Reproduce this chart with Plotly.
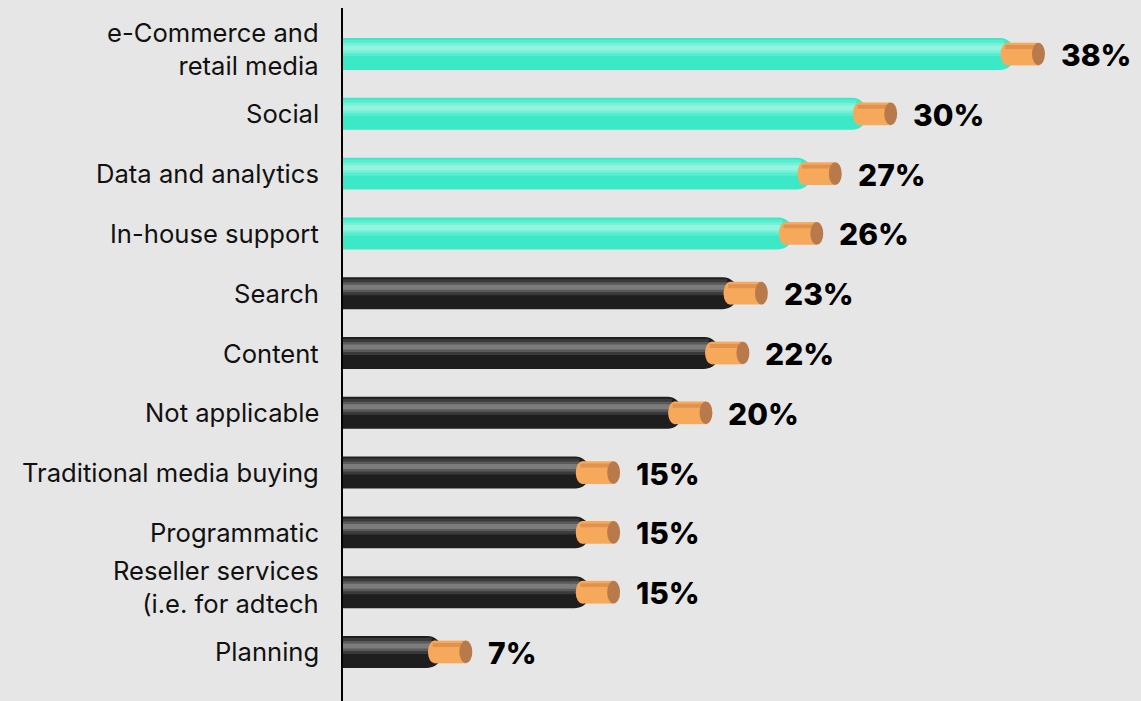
import plotly.graph_objects as go

# Services share, percent of respondents
categories = [
    "e-Commerce and<br>retail media",
    "Social",
    "Data and analytics",
    "In-house support",
    "Search",
    "Content",
    "Not applicable",
    "Traditional media buying",
    "Programmatic",
    "Reseller services<br>(i.e. for adtech",
    "Planning",
]
values = [38, 30, 27, 26, 23, 22, 20, 15, 15, 15, 7]
highlighted = [True, True, True, True, False, False, False, False, False, False, False]

BG = "#e6e6e6"
TEAL_LAYERS = ["#3ce9c6", "#58edcf", "#76f0d7", "#93f4df"]
DARK_LAYERS = ["#1e1e1e", "#3a3a3a", "#5a5a5a", "#7c7c7c"]
COPPER = "#f6a95b"
COPPER_STRIPE = "#e2924f"
COPPER_CAP = "#b97a4b"

CABLE_GAP = 1.63      # bare copper length, in % units
COPPER_LEN = 2.4      # copper visible length (incl. part under insulation)
CAP_W = 0.7           # width of copper end-face ellipse

rows = list(range(len(categories)))

# (offset from row centre, thickness) for each cable shading layer
layers = [(-0.2676, 0.535), (-0.234, 0.268), (-0.184, 0.167), (-0.142, 0.084)]

fig = go.Figure()
for i, (off, w) in enumerate(layers):
    colors = [TEAL_LAYERS[i] if h else DARK_LAYERS[i] for h in highlighted]
    if i == 0:
        xs = [v - CABLE_GAP for v in values]
        radius = "50%"
    else:
        xs = [v - COPPER_LEN + 0.2 for v in values]
        radius = 0
    fig.add_trace(go.Bar(
        x=xs, y=rows, orientation="h",
        offset=off, width=w,
        marker=dict(color=colors, line=dict(width=0), cornerradius=radius),
        hoverinfo="skip", showlegend=False,
    ))

# Copper conductor at the end of each cable
shapes = []
ch = 0.19
for r, v in zip(rows, values):
    left = v - COPPER_LEN
    shapes.append(dict(type="circle", xref="x", yref="y",
                       x0=left, x1=left + CAP_W, y0=r - ch, y1=r + ch,
                       fillcolor=COPPER, line=dict(width=0)))
    shapes.append(dict(type="rect", xref="x", yref="y",
                       x0=left + CAP_W / 2, x1=v - CAP_W / 2, y0=r - ch, y1=r + ch,
                       fillcolor=COPPER, line=dict(width=0)))
    shapes.append(dict(type="rect", xref="x", yref="y",
                       x0=left + 0.25, x1=v - CAP_W / 2, y0=r - 0.15, y1=r - 0.085,
                       fillcolor=COPPER_STRIPE, line=dict(width=0)))
    shapes.append(dict(type="circle", xref="x", yref="y",
                       x0=v - CAP_W, x1=v, y0=r - ch, y1=r + ch,
                       fillcolor=COPPER_CAP, line=dict(width=0)))

# Value labels after each cable
annotations = [
    dict(x=v, y=r, xref="x", yref="y", text=f"{v}%", showarrow=False,
         xanchor="left", yanchor="middle", xshift=14, yshift=-1,
         font=dict(family="Inter", size=30, color="#000000", weight=800))
    for r, v in zip(rows, values)
]

# Category labels, right-aligned left of the axis
for r, cat in zip(rows, categories):
    wrapped = "<br>" in cat
    annotations.append(dict(
        x=0, y=r, xref="paper", yref="y", text=cat, showarrow=False,
        xanchor="right", yanchor="middle", align="right", xshift=-22,
        yshift=5 if wrapped else 0,
        font=dict(family="Inter", size=25.6, color="#111111"),
    ))

fig.update_layout(
    width=1141, height=701,
    margin=dict(l=343, r=0, t=8, b=0),
    paper_bgcolor=BG, plot_bgcolor=BG,
    barmode="overlay",
    shapes=shapes, annotations=annotations,
    xaxis=dict(range=[0, 43.2], visible=False, fixedrange=True),
    yaxis=dict(
        range=[10.82, -0.77], tickmode="array", tickvals=rows, ticktext=[""] * len(rows),
        showgrid=False, zeroline=False, showline=True, linecolor="#000000", linewidth=2,
        ticks="", automargin=False, showticklabels=False,
    ),
)

fig.write_html("out.html")
